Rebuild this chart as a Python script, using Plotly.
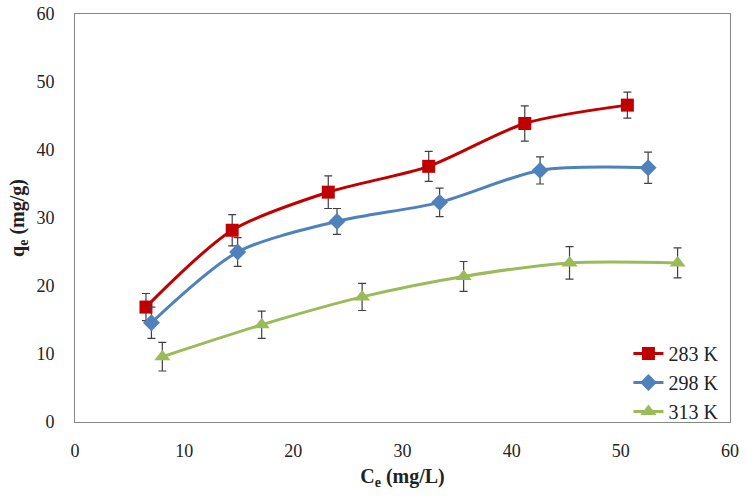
import plotly.graph_objects as go

# Data
ce_283 = [6.5, 14.4, 23.2, 32.4, 41.2, 50.6]
qe_283 = [16.9, 28.2, 33.8, 37.6, 43.9, 46.6]
err_283 = [2.0, 2.3, 2.4, 2.2, 2.6, 1.9]

ce_298 = [7.0, 14.9, 24.0, 33.4, 42.6, 52.5]
qe_298 = [14.6, 25.0, 29.5, 32.3, 37.0, 37.4]
err_298 = [2.3, 2.1, 1.9, 2.1, 2.0, 2.3]

ce_313 = [8.0, 17.1, 26.3, 35.6, 45.3, 55.2]
qe_313 = [9.6, 14.3, 18.4, 21.4, 23.4, 23.4]
err_313 = [2.1, 2.0, 2.0, 2.2, 2.4, 2.2]

names = ["283 K", "298 K", "313 K"]
colors = ["#C00000", "#4F81BD", "#9BBB59"]
symbols = ["square", "diamond", "triangle-up"]
msizes = [13, 13, 14]

x_ticks = [0, 10, 20, 30, 40, 50, 60]
y_ticks = [0, 10, 20, 30, 40, 50, 60]

FONT = "Palatino Linotype, Book Antiqua, Liberation Serif, serif"

fig = go.Figure()
series = [(ce_283, qe_283, err_283), (ce_298, qe_298, err_298), (ce_313, qe_313, err_313)]
for i, (xs, ys, es) in enumerate(series):
    fig.add_trace(go.Scatter(
        x=xs, y=ys, name=names[i], mode="lines+markers",
        legendgroup=names[i],
        line=dict(color=colors[i], width=3, shape="spline", smoothing=0.8),
        marker=dict(symbol=symbols[i], size=msizes[i], color=colors[i]),
        error_y=dict(type="data", array=es, visible=True, color="#404040",
                     thickness=1.2, width=4),
    ))

axis_common = dict(
    showgrid=False, zeroline=False, showline=True, linecolor="#868686",
    linewidth=1, mirror=True, ticks="", automargin=False,
    ticklabeloverflow="allow",
    tickfont=dict(family=FONT, size=18, color="#222222"),
)

fig.update_layout(
    width=746, height=499,
    margin=dict(l=75, r=16, t=14, b=77),
    paper_bgcolor="white", plot_bgcolor="white",
    font=dict(family=FONT, color="#222222"),
    xaxis=dict(range=[0, 60], tickvals=x_ticks, ticklabelstandoff=12,
               title=dict(text="<b>C<sub>e</sub> (mg/L)</b>", font=dict(family=FONT, size=20), standoff=9),
               **axis_common),
    yaxis=dict(range=[0, 60], tickvals=y_ticks, ticklabelstandoff=16,
               title=dict(text="<b>q<sub>e</sub> (mg/g)</b>", font=dict(family=FONT, size=20), standoff=6),
               **axis_common),
    legend=dict(x=0.99, y=-0.022, xanchor="right", yanchor="bottom",
                bgcolor="rgba(255,255,255,0)", borderwidth=0,
                font=dict(family=FONT, size=20, color="#222222"),
                tracegroupgap=0, itemwidth=30),
)

fig.write_html("out.html", config={"displayModeBar": False},
               post_script="document.body.style.margin='0';document.body.style.padding='0';")
